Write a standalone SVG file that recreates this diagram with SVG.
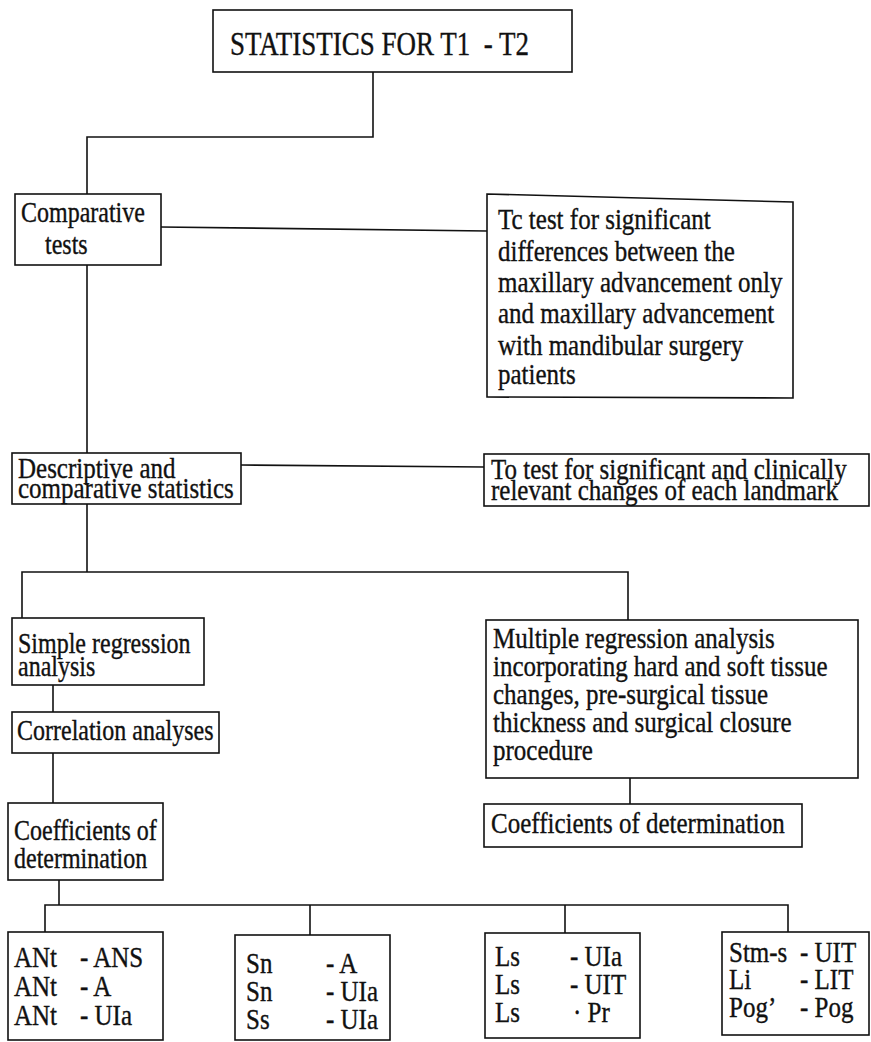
<svg xmlns="http://www.w3.org/2000/svg" width="871" height="1042" viewBox="0 0 871 1042">
<style>
.box{fill:#fff;stroke:#111;stroke-width:1.6}
.ln{fill:none;stroke:#111;stroke-width:1.6}
.t{font-family:"Liberation Serif","Times New Roman",serif;font-size:24px;fill:#111;stroke:#111;stroke-width:0.3;white-space:pre}
.b{font-size:25px}
.h{font-size:27px}
</style>
<rect width="871" height="1042" fill="#fff"/>
<g id="connectors">
<polyline class="ln" points="373,72 373,137 87,137 87,194"/>
<line class="ln" x1="161" y1="227" x2="487" y2="231"/>
<line class="ln" x1="87" y1="265" x2="87" y2="453"/>
<line class="ln" x1="241" y1="465" x2="484" y2="467"/>
<line class="ln" x1="87" y1="504" x2="87" y2="572"/>
<polyline class="ln" points="22,618 22,572 628,572 628,620"/>
<line class="ln" x1="53" y1="685" x2="53" y2="712"/>
<line class="ln" x1="53" y1="753" x2="53" y2="803"/>
<line class="ln" x1="630" y1="778" x2="630" y2="804"/>
<line class="ln" x1="59" y1="880" x2="59" y2="905"/>
<polyline class="ln" points="45,932 45,905 788,905 788,932"/>
<line class="ln" x1="310" y1="905" x2="310" y2="935"/>
<line class="ln" x1="565" y1="905" x2="565" y2="933"/>
</g>
<g id="n-title">
<rect class="box" x="213" y="10" width="359" height="62"/>
<text class="t h" transform="matrix(1 0 0 1.22 230 55)">STATISTICS FOR T1  - T2</text>
</g>
<g id="n-comparative">
<rect class="box" x="15" y="194" width="146" height="71"/>
<text class="t" transform="matrix(1 0 0 1.22 21 222)">Comparative</text>
<text class="t" transform="matrix(1 0 0 1.22 45 254)">tests</text>
</g>
<g id="n-comp-purpose">
<path class="box" d="M487,194 L793,202 L793,398 L487,397 Z"/>
<text class="t b" transform="matrix(1 0 0 1.22 498 229)">Tc test for significant</text>
<text class="t b" transform="matrix(1 0 0 1.22 498 261)">differences between the</text>
<text class="t b" transform="matrix(1 0 0 1.22 498 292)">maxillary advancement only</text>
<text class="t b" transform="matrix(1 0 0 1.22 498 323)">and maxillary advancement</text>
<text class="t b" transform="matrix(1 0 0 1.22 498 355)">with mandibular surgery</text>
<text class="t b" transform="matrix(1 0 0 1.22 498 384)">patients</text>
</g>
<g id="n-descriptive">
<rect class="box" x="12" y="453" width="229" height="51"/>
<text class="t b" transform="matrix(1 0 0 1.22 18 478)">Descriptive and</text>
<text class="t b" transform="matrix(1 0 0 1.22 18 498)">comparative statistics</text>
</g>
<g id="n-desc-purpose">
<rect class="box" x="484" y="454" width="385" height="52"/>
<text class="t b" transform="matrix(1 0 0 1.22 491 479)">To test for significant and clinically</text>
<text class="t b" transform="matrix(1 0 0 1.22 491 500)">relevant changes of each landmark</text>
</g>
<g id="n-simple">
<rect class="box" x="12" y="618" width="192" height="67"/>
<text class="t" transform="matrix(1 0 0 1.22 18 653)">Simple regression</text>
<text class="t" transform="matrix(1 0 0 1.22 18 676)">analysis</text>
</g>
<g id="n-correlation">
<rect class="box" x="12" y="712" width="207" height="41"/>
<text class="t" transform="matrix(1 0 0 1.22 17 740)">Correlation analyses</text>
</g>
<g id="n-coef-left">
<rect class="box" x="8" y="803" width="155" height="77"/>
<text class="t" transform="matrix(1 0 0 1.22 14 840)">Coefficients of</text>
<text class="t" transform="matrix(1 0 0 1.22 14 868)">determination</text>
</g>
<g id="n-multiple">
<rect class="box" x="486" y="620" width="372" height="158"/>
<text class="t b" transform="matrix(1 0 0 1.22 493 648)">Multiple regression analysis</text>
<text class="t b" transform="matrix(1 0 0 1.22 493 676)">incorporating hard and soft tissue</text>
<text class="t b" transform="matrix(1 0 0 1.22 493 704)">changes, pre-surgical tissue</text>
<text class="t b" transform="matrix(1 0 0 1.22 493 732)">thickness and surgical closure</text>
<text class="t b" transform="matrix(1 0 0 1.22 493 760)">procedure</text>
</g>
<g id="n-coef-right">
<rect class="box" x="484" y="804" width="318" height="43"/>
<text class="t b" transform="matrix(1 0 0 1.22 491 833)">Coefficients of determination</text>
</g>
<g id="n-ant">
<rect class="box" x="8" y="932" width="155" height="108"/>
<text class="t b" transform="matrix(1 0 0 1.22 14 967)">ANt</text>
<text class="t b" transform="matrix(1 0 0 1.22 80 967)">- ANS</text>
<text class="t b" transform="matrix(1 0 0 1.22 14 996)">ANt</text>
<text class="t b" transform="matrix(1 0 0 1.22 80 996)">- A</text>
<text class="t b" transform="matrix(1 0 0 1.22 14 1025)">ANt</text>
<text class="t b" transform="matrix(1 0 0 1.22 80 1025)">- UIa</text>
</g>
<g id="n-sn">
<rect class="box" x="235" y="935" width="155" height="105"/>
<text class="t b" transform="matrix(1 0 0 1.22 246 973)">Sn</text>
<text class="t b" transform="matrix(1 0 0 1.22 326 973)">- A</text>
<text class="t b" transform="matrix(1 0 0 1.22 246 1001)">Sn</text>
<text class="t b" transform="matrix(1 0 0 1.22 326 1001)">- UIa</text>
<text class="t b" transform="matrix(1 0 0 1.22 246 1029)">Ss</text>
<text class="t b" transform="matrix(1 0 0 1.22 326 1029)">- UIa</text>
</g>
<g id="n-ls">
<rect class="box" x="485" y="933" width="155" height="105"/>
<text class="t b" transform="matrix(1 0 0 1.22 495 966)">Ls</text>
<text class="t b" transform="matrix(1 0 0 1.22 570 966)">- UIa</text>
<text class="t b" transform="matrix(1 0 0 1.22 495 994)">Ls</text>
<text class="t b" transform="matrix(1 0 0 1.22 570 994)">- UIT</text>
<text class="t b" transform="matrix(1 0 0 1.22 495 1022)">Ls</text>
<text class="t b" transform="matrix(1 0 0 1.22 573 1022)">· Pr</text>
</g>
<g id="n-stm">
<rect class="box" x="722" y="932" width="147" height="103"/>
<text class="t b" transform="matrix(1 0 0 1.22 729 962)">Stm-s</text>
<text class="t b" transform="matrix(1 0 0 1.22 800 962)">- UIT</text>
<text class="t b" transform="matrix(1 0 0 1.22 729 989)">Li</text>
<text class="t b" transform="matrix(1 0 0 1.22 800 989)">- LIT</text>
<text class="t b" transform="matrix(1 0 0 1.22 729 1017)">Pog’</text>
<text class="t b" transform="matrix(1 0 0 1.22 800 1017)">- Pog</text>
</g>
</svg>
